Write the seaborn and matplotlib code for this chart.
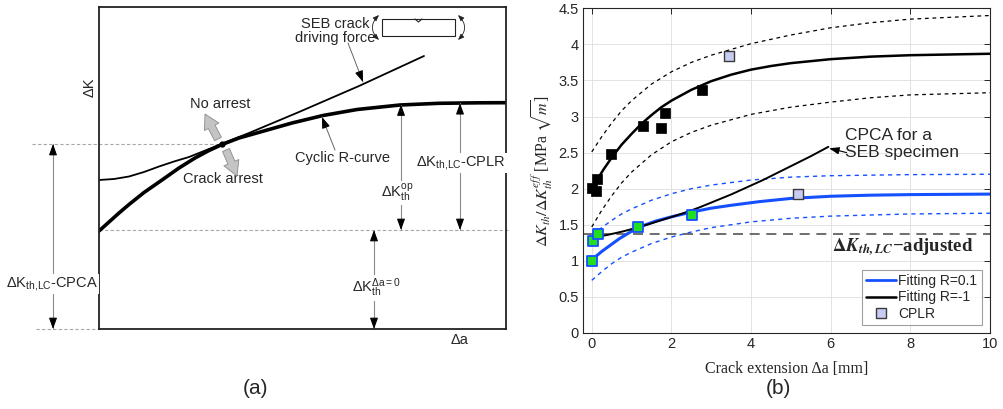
import numpy as np
import pandas as pd
import matplotlib
matplotlib.use("Agg")
import matplotlib.pyplot as plt
import seaborn as sns
from matplotlib.lines import Line2D
from matplotlib.patches import Rectangle
from matplotlib.ticker import FuncFormatter

# ---------------- Panel (a) schematic data (arbitrary units) ----------------
rcurve_x = [0, 10, 20, 30, 45, 63, 80, 96, 110, 123, 140, 163, 193, 224, 258, 301, 340, 380, 407]
rcurve_y = [98, 107, 116, 124.5, 136.5, 149, 161, 171, 178.5, 184.5, 191, 197.5, 206, 213.5, 219.5, 224, 225.7, 226.2, 226.3]
seb_x = [0, 15, 30, 45, 60, 75, 90, 105, 123, 150, 200, 260, 325]
seb_y = [149, 150, 152.5, 157, 162.5, 167.5, 172, 178, 185.3, 196, 217, 243, 273]
level_cpca = 185
level_da0 = 99

# ---------------- Panel (b) data ----------------
fit_r01_x = [0, 0.1, 0.25, 0.45, 0.7, 1.0, 1.3, 1.6, 2.0, 2.5, 3.0, 3.5, 4.2, 5, 6, 7, 8, 10]
fit_r01_y = [1.0, 1.06, 1.13, 1.21, 1.31, 1.41, 1.49, 1.55, 1.61, 1.675, 1.73, 1.77, 1.82, 1.865, 1.895, 1.91, 1.918, 1.925]
r01_up_x = [0, 0.25, 0.5, 0.75, 1, 1.5, 2, 2.5, 3, 4, 5, 6, 8, 10]
r01_up_y = [1.36, 1.46, 1.56, 1.65, 1.72, 1.84, 1.93, 2.0, 2.05, 2.12, 2.16, 2.18, 2.195, 2.2]
r01_lo_x = [0, 0.25, 0.5, 0.75, 1, 1.5, 2, 2.5, 3, 4, 5, 6, 8, 10]
r01_lo_y = [0.73, 0.85, 0.96, 1.05, 1.12, 1.24, 1.33, 1.40, 1.46, 1.54, 1.59, 1.62, 1.65, 1.66]

fit_rm1_x = [0.13, 0.3, 0.5, 0.75, 1, 1.25, 1.5, 1.75, 2, 2.5, 3, 3.5, 4, 4.5, 5, 6, 7, 8, 9, 10]
fit_rm1_y = [2.12, 2.27, 2.43, 2.61, 2.76, 2.9, 3.02, 3.13, 3.22, 3.37, 3.49, 3.58, 3.65, 3.70, 3.74, 3.795, 3.83, 3.85, 3.86, 3.87]
rm1_up_x = [0, 0.25, 0.5, 0.75, 1, 1.5, 2, 2.5, 3, 4, 5, 6, 7, 8, 10]
rm1_up_y = [2.51, 2.72, 2.91, 3.08, 3.22, 3.45, 3.62, 3.75, 3.85, 4.01, 4.13, 4.23, 4.30, 4.35, 4.40]
rm1_lo_x = [0, 0.25, 0.5, 0.75, 1, 1.5, 2, 2.5, 3, 4, 5, 6, 7, 8, 10]
rm1_lo_y = [1.47, 1.70, 1.90, 2.08, 2.23, 2.47, 2.65, 2.78, 2.88, 3.03, 3.13, 3.20, 3.26, 3.30, 3.33]

pts_rm1_x = [0, 0.1, 0.13, 0.49, 1.28, 1.74, 1.83, 2.76]
pts_rm1_y = [2.01, 1.97, 2.13, 2.48, 2.87, 2.84, 3.05, 3.37]
pts_r01_x = [0, 0.03, 0.15, 1.17, 2.52]
pts_r01_y = [1.0, 1.27, 1.37, 1.47, 1.64]
cplr_x = [3.44, 5.19]
cplr_y = [3.84, 1.92]

cpca_x = [0.08, 0.4, 0.8, 1.17, 1.5, 1.9, 2.3, 2.7, 3.1, 3.5, 3.9, 4.3, 4.7, 5.1, 5.5, 5.94]
cpca_y = [1.33, 1.36, 1.41, 1.465, 1.52, 1.59, 1.66, 1.74, 1.83, 1.92, 2.02, 2.12, 2.23, 2.34, 2.45, 2.58]
dk_adjusted = 1.37

legend_labels = ["Fitting R=0.1", "Fitting R=-1", "CPLR"]
xticks_b = [0, 2, 4, 6, 8, 10]
yticks_b = [0, 0.5, 1, 1.5, 2, 2.5, 3, 3.5, 4, 4.5]

# ---------------- style ----------------
sns.set_theme(style="white")
plt.rcParams['font.family'] = ['Liberation Sans', 'DejaVu Sans']
plt.rcParams['mathtext.fontset'] = 'custom'
plt.rcParams['mathtext.rm'] = 'Liberation Sans'
plt.rcParams['mathtext.it'] = 'Liberation Sans:italic'
plt.rcParams['mathtext.bf'] = 'Liberation Sans:bold'

fig = plt.figure(figsize=(10.04, 4.09), dpi=100)
axa = fig.add_axes([99/1004, 80/409, 407/1004, 322/409])
axb = fig.add_axes([583/1004, 76/409, 407/1004, 324.7/409])

# ================= Panel (a) =================
axa.set_xlim(0, 407)
axa.set_ylim(0, 322)
axa.set_xticks([]); axa.set_yticks([])
for s in axa.spines.values():
    s.set_color('#222222'); s.set_linewidth(1.3)

gray_dash = dict(color='#a8a8a8', lw=0.8, ls=(0, (3, 2)), clip_on=False, zorder=1)
axa.plot([-67, seb_x[8]], [level_cpca, level_cpca], **gray_dash)
axa.plot([0, 410], [level_da0, level_da0], **gray_dash)
axa.plot([-63, 0], [0, 0], **gray_dash)

sns.lineplot(x=seb_x, y=seb_y, ax=axa, color='black', lw=1.3, sort=False, estimator=None)
sns.lineplot(x=rcurve_x, y=rcurve_y, ax=axa, color='black', lw=2.6, sort=False, estimator=None)
axa.plot([seb_x[8]], [seb_y[8]], 'o', color='black', ms=3.5, zorder=5)

def head(ax, x, y, dx, dy):
    ax.annotate("", xy=(x, y), xytext=(x - dx, y - dy),
                arrowprops=dict(arrowstyle="-|>,head_length=0.55,head_width=0.2",
                                color='black', lw=0.8, shrinkA=0, shrinkB=0),
                annotation_clip=False, zorder=4)

def dim_arrow(ax, x, y0, y1):
    ax.plot([x, x], [y0, y1], color='#8a8a8a', lw=0.8, clip_on=False, zorder=2)
    head(ax, x, y1, 0, 6 if y1 > y0 else -6)
    head(ax, x, y0, 0, 6 if y0 > y1 else -6)

dim_arrow(axa, -46, 0, level_cpca)
dim_arrow(axa, 275, 0, level_da0)
dim_arrow(axa, 302, level_da0, 224.5)
dim_arrow(axa, 361, level_da0, 225.8)

box = dict(fc='white', ec='none', pad=1)
axa.text(-47, 45, r"ΔK$_{\mathrm{th{,}LC}}$-CPCA", ha='center', va='center', fontsize=10.5, bbox=box, zorder=6)
axa.text(277, 41, r"ΔK$_{\mathrm{th}}^{\mathrm{Δa=0}}$", ha='center', va='center', fontsize=10.5, bbox=box, zorder=6)
axa.text(298, 136, r"ΔK$_{\mathrm{th}}^{\mathrm{op}}$", ha='center', va='center', fontsize=10.5, bbox=box, zorder=6)
axa.text(362, 166, r"ΔK$_{\mathrm{th{,}LC}}$-CPLR", ha='center', va='center', fontsize=10.5, bbox=box, zorder=6)

axa.text(236, 298, "SEB crack\ndriving force", ha='center', va='center', fontsize=10.5, linespacing=1.05)
axa.plot([249, 264], [286, 247], color='#666666', lw=0.7)
head(axa, 264, 247, 2.3, -6)
axa.text(244, 171, "Cyclic R-curve", ha='center', va='center', fontsize=10.5)
axa.plot([236, 223], [179, 212], color='#666666', lw=0.7)
head(axa, 223, 212, -2.3, 6)

axa.text(121, 225, "No arrest", ha='center', va='center', fontsize=10.5)
axa.text(124, 150, "Crack arrest", ha='center', va='center', fontsize=10.5)
fat = dict(arrowstyle="simple,head_length=0.8,head_width=0.9,tail_width=0.42",
           mutation_scale=13, fc='#c4c4c4', ec='#8a8a8a', lw=0.6, shrinkA=0, shrinkB=0)
axa.annotate("", xy=(106, 215), xytext=(119, 190), arrowprops=fat)
axa.annotate("", xy=(138, 153), xytext=(127, 179), arrowprops=fat)

axa.text(-9, 242, "ΔK", rotation=90, ha='center', va='center', fontsize=10.5)
axa.text(361, -11, "Δa", ha='center', va='center', fontsize=10.5)

# SEB specimen sketch
axa.add_patch(Rectangle((283, 293), 73, 17, fill=False, ec='#222222', lw=0.8))
axa.plot([316, 319.5, 323], [310, 307, 310], color='#222222', lw=0.8)
for xs, rad in [(280, 0.5), (359, -0.5)]:
    axa.annotate("", xy=(xs, 289), xytext=(xs, 314),
                 arrowprops=dict(arrowstyle="<|-|>,head_length=0.3,head_width=0.12",
                                 connectionstyle=f"arc3,rad={rad}", color='#222222', lw=0.6,
                                 shrinkA=0, shrinkB=0))

# ================= Panel (b) =================
blue = '#1550ff'
df_fit01 = pd.DataFrame({'x': fit_r01_x, 'y': fit_r01_y})
df_fitm1 = pd.DataFrame({'x': fit_rm1_x, 'y': fit_rm1_y})
dash_short = (0, (3, 3))
for xs, ys in [(r01_up_x, r01_up_y), (r01_lo_x, r01_lo_y)]:
    sns.lineplot(x=xs, y=ys, ax=axb, color=blue, lw=1.0, linestyle=dash_short, estimator=None)
for xs, ys in [(rm1_up_x, rm1_up_y), (rm1_lo_x, rm1_lo_y)]:
    sns.lineplot(x=xs, y=ys, ax=axb, color='black', lw=0.9, linestyle=dash_short, estimator=None)
axb.axhline(dk_adjusted, color='#555555', lw=1.2, ls=(0, (6, 4)), zorder=2)
sns.lineplot(data=df_fit01, x='x', y='y', ax=axb, color=blue, lw=2.2, estimator=None)
sns.lineplot(data=df_fitm1, x='x', y='y', ax=axb, color='black', lw=1.8, estimator=None)
sns.lineplot(x=cpca_x, y=cpca_y, ax=axb, color='black', lw=1.4, estimator=None, sort=False)

sns.scatterplot(x=pts_rm1_x, y=pts_rm1_y, ax=axb, marker='s', s=45, color='black',
                edgecolor='black', linewidth=0.5, zorder=5)
sns.scatterplot(x=pts_r01_x, y=pts_r01_y, ax=axb, marker='s', s=45, color='#22dd22',
                edgecolor=blue, linewidth=1.3, zorder=5)
sns.scatterplot(x=cplr_x, y=cplr_y, ax=axb, marker='s', s=50, color='#c8cbf2',
                edgecolor='#3a3a3a', linewidth=1.0, zorder=5)

axb.annotate("", xy=(cpca_x[-1] + 0.02, cpca_y[-1] - 0.02), xytext=(6.4, 2.5),
             arrowprops=dict(arrowstyle="-|>,head_length=0.5,head_width=0.18", color='black',
                             lw=0.8, shrinkA=0, shrinkB=0))
axb.text(6.36, 2.62, "CPCA for a\nSEB specimen", ha='left', va='center', fontsize=12.5,
         linespacing=1.1)
axb.text(7.82, 1.18, r"$\mathbf{\Delta}\mathbfit{K}_{\mathbfit{th,LC}}$−adjusted",
         ha='center', va='center', fontsize=13.5, fontweight='bold',
         family=['Liberation Serif', 'DejaVu Serif'], math_fontfamily='stix')

axb.set_xlim(-0.22, 10)
axb.set_ylim(0, 4.5)
axb.set_xticks(xticks_b)
axb.set_yticks(yticks_b)
fmt = FuncFormatter(lambda v, p: f"{v:g}")
axb.xaxis.set_major_formatter(fmt)
axb.yaxis.set_major_formatter(fmt)
axb.grid(True, color='#e3e3e3', lw=0.7)
axb.set_axisbelow(True)
axb.tick_params(direction='in', length=4, width=0.7, top=True, right=True,
                labelsize=10.5, color='#262626', labelcolor='#262626', pad=3)
for s in axb.spines.values():
    s.set_color('#262626'); s.set_linewidth(0.8)
axb.set_xlabel("Crack extension Δa [mm]", fontsize=11.5, color='#262626',
               family=['Liberation Serif', 'DejaVu Serif'], labelpad=7)
axb.set_ylabel(r"$\Delta K_{th}/\Delta K_{th}^{eff}$ [MPa $\sqrt{m}$]", fontsize=11.5,
               color='#262626', family=['Liberation Serif', 'DejaVu Serif'],
               math_fontfamily='stix', labelpad=3)

handles = [Line2D([], [], color=blue, lw=2.0),
           Line2D([], [], color='black', lw=1.8),
           Line2D([], [], ls='none', marker='s', ms=6.5, mfc='#c8cbf2', mec='#3a3a3a', mew=1.0)]
leg = axb.legend(handles, legend_labels, loc='lower right',
                 fontsize=10, frameon=True, fancybox=False, edgecolor='#888888',
                 handlelength=2.2, handletextpad=0.15, borderpad=0.3, labelspacing=0.15,
                 borderaxespad=0.6)
leg.get_frame().set_linewidth(0.8)

fig.text(256/1004, 1 - 388/409, "(a)", ha='center', va='center', fontsize=15)
fig.text(778/1004, 1 - 388/409, "(b)", ha='center', va='center', fontsize=15)

fig.savefig("out.png", dpi=100)
